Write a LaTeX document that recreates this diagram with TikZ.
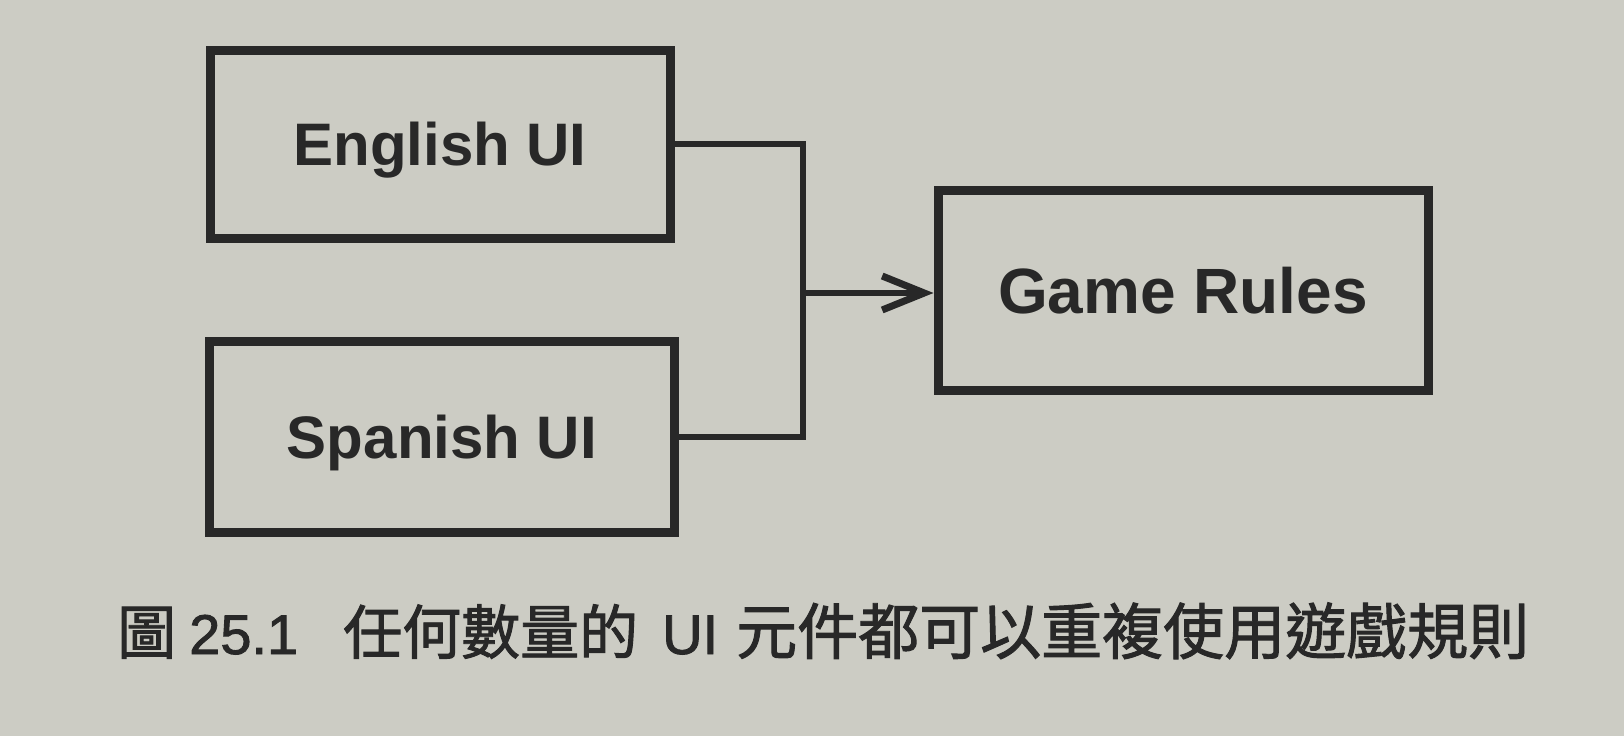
\documentclass[tikz,border=0pt]{standalone}
\usepackage{fontspec}
\setmainfont{Liberation Sans}
\newfontfamily\cjk[FakeBold=1.6]{Noto Sans CJK TC}
\newfontfamily\lat[FakeBold=1.6]{Liberation Sans}
\usetikzlibrary{arrows.meta}
\definecolor{paper}{RGB}{204,204,196}
\definecolor{ink}{RGB}{40,40,40}
\tikzset{
  uibox/.style={draw=ink, line width=9pt, text=ink, font=\bfseries\fontsize{60}{60}\selectfont,
    text height=43pt, text depth=0pt, inner sep=0pt, anchor=center},
  conn/.style={draw=ink, line width=6pt},
  tip/.style={-{Straight Barb[length=42pt,width=34pt,line width=7pt]}}
}
\begin{document}
\begin{tikzpicture}[x=1pt,y=-1pt]
\fill[paper] (0,0) rectangle (1624,736);
\useasboundingbox (0,0) rectangle (1624,736);
\node[uibox, minimum width=460pt, minimum height=188pt] (eng) at (440,144) {English UI};
\node[uibox, minimum width=465pt, minimum height=191pt] (spa) at (442,437) {Spanish UI};
\node[uibox, minimum width=490pt, minimum height=200pt, text height=46pt,
      font=\bfseries\fontsize{64}{64}\selectfont] (game) at (1183,290) {Game Rules};
\coordinate (j) at (803,293);
\draw[conn] (eng.east) -| (j);
\draw[conn] (spa.east) -| (j);
\draw[conn, tip] (j) -- (j -| game.west);
\node[anchor=base west, inner sep=0pt, text=ink] (cap) at (117,654)
  {\cjk\fontsize{59}{59}\selectfont 圖\hspace{13pt}{\lat\fontsize{56}{56}\selectfont 25.1}\hspace{45pt}任何數量的\hspace{24pt}{\lat\fontsize{56}{56}\selectfont UI}\hspace{18pt}{\fontsize{61}{61}\selectfont 元件都可以重複使用遊戲規則}};
\end{tikzpicture}
\end{document}
